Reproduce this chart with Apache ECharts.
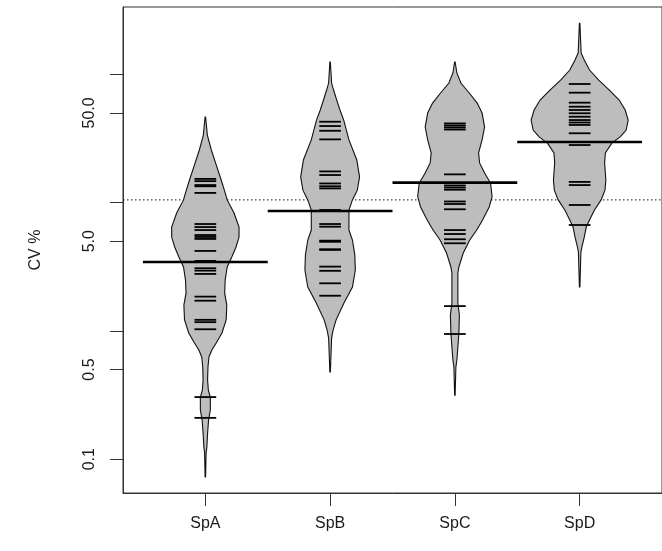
<!DOCTYPE html>
<html><head><meta charset="utf-8">
<script src="https://cdn.jsdelivr.net/npm/echarts@6/dist/echarts.min.js"></script>
<style>html,body{margin:0;padding:0;background:#fff}#c{width:662px;height:551px}</style>
</head><body><div id="c"></div>
<script>
// ---------- data ----------
const categories = ['SpA', 'SpB', 'SpC', 'SpD'];
const yTickValues = [0.1, 0.5, 1, 5, 10, 50, 100];
const yLabelValues = [0.1, 0.5, 5, 50];
const yAxisName = 'CV %';
const overallMean = 10.5;
const beanMeans = [3.44, 8.6, 14.3, 29.7];

// individual observations (bean lines)
const obsA = [15.3, 14.7, 13.7, 13.4, 11.9, 6.81, 6.45, 6.11, 5.59, 5.40, 5.21, 4.20, 3.51, 3.08, 2.95, 2.78, 1.85, 1.72, 1.22, 1.17, 1.03, 0.305, 0.210];
const obsB = [42.7, 39.5, 36.3, 31.1, 17.5, 16.4, 14.1, 13.4, 12.9, 8.76, 6.81, 6.49, 5.05, 4.95, 4.33, 4.28, 3.17, 2.94, 2.35, 1.88];
const obsC = [41.4, 39.9, 38.5, 37.1, 16.6, 13.6, 13.1, 12.6, 10.2, 9.75, 8.87, 6.11, 5.69, 5.18, 4.82, 1.56, 0.946];
const obsD = [84.0, 71.9, 60.1, 55.9, 52.7, 49.7, 46.7, 44.0, 42.1, 40.3, 34.7, 28.1, 14.5, 13.7, 9.58, 6.69];

// density outlines: [value, half width of the bean in category units]
const densA = [[46.5,0.002],[33.6,0.016],[25.7,0.048],[18.9,0.093],[15.0,0.127],[11.9,0.159],[10.5,0.175],[8.30,0.230],[6.45,0.270],[5.39,0.270],[4.51,0.246],[3.77,0.212],[3.15,0.175],[2.49,0.159],[1.97,0.155],[1.59,0.172],[1.22,0.167],[0.963,0.133],[0.805,0.087],[0.710,0.052],[0.626,0.029],[0.523,0.021],[0.414,0.018],[0.346,0.024],[0.305,0.040],[0.242,0.040],[0.202,0.026],[0.160,0.018],[0.124,0.012],[0.112,0.006],[0.0727,0.002]];
const densB = [[124.7,0.002],[85.5,0.012],[75.4,0.028],[63.0,0.053],[52.7,0.079],[44.0,0.109],[30.8,0.151],[21.5,0.214],[15.8,0.236],[12.5,0.218],[10.5,0.179],[8.76,0.151],[6.11,0.151],[5.11,0.179],[3.91,0.198],[2.98,0.202],[2.20,0.179],[1.65,0.111],[1.22,0.048],[1.016,0.024],[0.880,0.012],[0.478,0.002]];
const densC = [[124.7,0.002],[102.4,0.016],[85.5,0.048],[71.5,0.115],[59.7,0.179],[49.9,0.218],[38.8,0.238],[30.8,0.218],[24.4,0.190],[20.4,0.198],[17.0,0.238],[14.2,0.286],[11.1,0.298],[9.24,0.275],[7.32,0.222],[6.11,0.175],[5.11,0.119],[4.05,0.067],[3.15,0.032],[2.83,0.024],[1.65,0.024],[1.33,0.036],[0.963,0.032],[0.749,0.024],[0.593,0.016],[0.523,0.008],[0.316,0.002]];
const densD = [[249.7,0.002],[146.6,0.012],[129.3,0.037],[108.0,0.079],[90.3,0.151],[75.4,0.238],[63.0,0.317],[52.7,0.365],[44.0,0.389],[36.8,0.373],[32.5,0.325],[29.1,0.258],[24.4,0.206],[20.4,0.200],[15.0,0.210],[12.5,0.203],[10.5,0.172],[8.76,0.119],[7.32,0.079],[6.45,0.053],[5.39,0.037],[4.51,0.018],[4.12,0.010],[2.20,0.002]];

// ---------- build ----------
const L = Math.log10;
const profiles = [densA, densB, densC, densD];
const observations = [obsA, obsB, obsC, obsD];
const xMin = 0.34, xMax = 4.66;
const yMin = 0.05453, yMax = 334.6;
const lineHalf = 0.087, meanHalf = 0.5;
const ink = '#1a1a1a';
const font = 'Liberation Sans, Arial, sans-serif';

const beanData = categories.map((c, i) => [i + 1, 0]);
const obsData = [];
observations.forEach((arr, i) => arr.forEach(v => obsData.push([i + 1, L(v)])));
const meanData = beanMeans.map((m, i) => [i + 1, L(m)]);

const chart = echarts.init(document.getElementById('c'), null, {renderer: 'canvas'});
chart.setOption({
  animation: false,
  backgroundColor: '#fff',
  grid: {left: 123, top: 7, width: 544, height: 486, show: true, borderColor: '#333', borderWidth: 1, backgroundColor: 'transparent'},
  xAxis: {
    type: 'value', min: xMin, max: xMax,
    axisLine: {show: true, onZero: false, lineStyle: {color: '#333', width: 1}},
    axisTick: {show: true, length: 13, customValues: [1, 2, 3, 4], lineStyle: {color: '#333'}},
    axisLabel: {customValues: [1, 2, 3, 4], formatter: v => categories[Math.round(v) - 1] || '', fontSize: 16, fontFamily: font, color: ink, margin: 23},
    splitLine: {show: false}
  },
  yAxis: {
    type: 'value', min: L(yMin), max: L(yMax),
    name: yAxisName, nameLocation: 'middle', nameRotate: 90, nameGap: 79,
    nameTextStyle: {fontSize: 16, fontFamily: font, color: ink},
    axisLine: {show: true, onZero: false, lineStyle: {color: '#333', width: 1}},
    axisTick: {show: true, length: 13, customValues: yTickValues.map(L), lineStyle: {color: '#333'}},
    axisLabel: {customValues: yLabelValues.map(L), rotate: 90, formatter: v => Math.pow(10, v).toFixed(1), fontSize: 16, fontFamily: font, color: ink, margin: 25},
    splitLine: {show: false}
  },
  series: [
    {
      type: 'custom', name: 'overall', data: [[xMin, L(overallMean)]],
      renderItem: (p, api) => {
        const a = api.coord([xMin, api.value(1)]);
        const b = api.coord([xMax, api.value(1)]);
        return {type: 'line', shape: {x1: a[0], y1: a[1], x2: b[0], y2: b[1]}, style: {stroke: '#111', lineWidth: 1, lineDash: [1.5, 2.5]}};
      }
    },
    {
      type: 'custom', name: 'beans', data: beanData,
      renderItem: (p, api) => {
        const x = api.value(0);
        const prof = profiles[p.dataIndex];
        const right = prof.map(([v, w]) => api.coord([x + w, L(v)]));
        const left = prof.slice().reverse().map(([v, w]) => api.coord([x - w, L(v)]));
        return {type: 'polygon', shape: {points: right.concat(left)}, style: {fill: '#bdbdbd', stroke: '#111', lineWidth: 1.1}};
      }
    },
    {
      type: 'custom', name: 'obs', data: obsData,
      renderItem: (p, api) => {
        const a = api.coord([api.value(0) - lineHalf, api.value(1)]);
        const b = api.coord([api.value(0) + lineHalf, api.value(1)]);
        return {type: 'line', shape: {x1: a[0], y1: a[1], x2: b[0], y2: b[1]}, style: {stroke: '#000', lineWidth: 1.8}};
      }
    },
    {
      type: 'custom', name: 'means', data: meanData,
      renderItem: (p, api) => {
        const a = api.coord([api.value(0) - meanHalf, api.value(1)]);
        const b = api.coord([api.value(0) + meanHalf, api.value(1)]);
        return {type: 'line', shape: {x1: a[0], y1: a[1], x2: b[0], y2: b[1]}, style: {stroke: '#000', lineWidth: 2.6}};
      }
    }
  ]
});
</script></body></html>
